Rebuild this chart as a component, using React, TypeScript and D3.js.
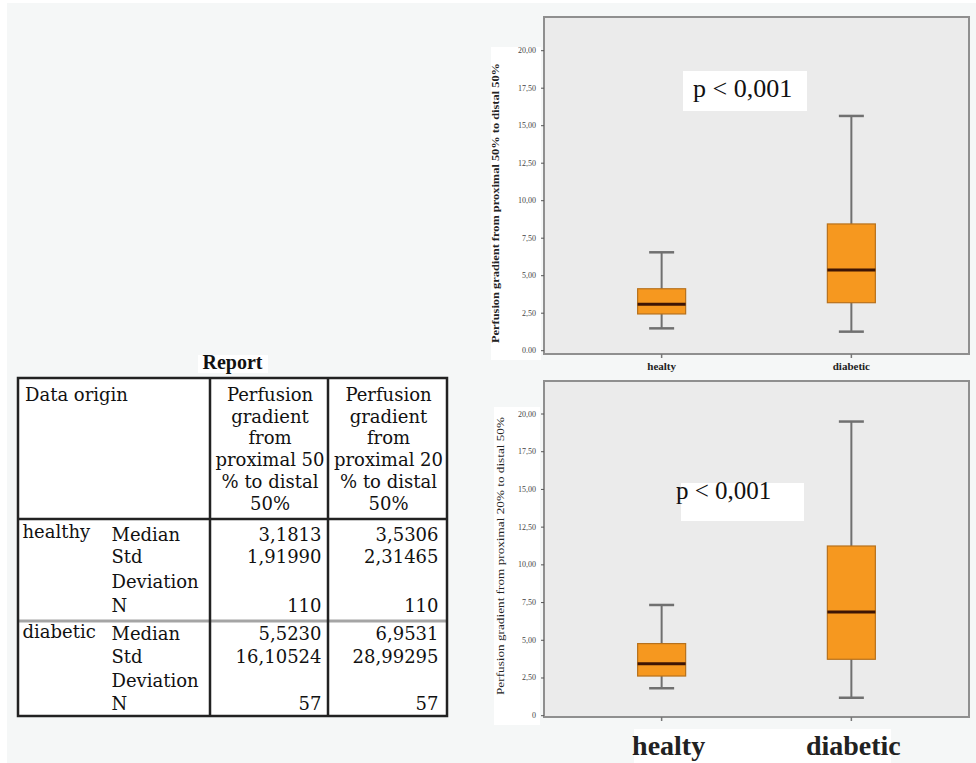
import React from "react";
import * as d3 from "d3";

const categories = ["healty", "diabetic"];
const yTicks = [0, 2.5, 5, 7.5, 10, 12.5, 15, 17.5, 20];
const topTickLabels = ["0.00", "2,50", "5,00", "7,50", "10,00", "12,50", "15,00", "17,50", "20,00"];
const bottomTickLabels = ["0", "2,50", "5,00", "7,50", "10,00", "12,50", "15,00", "17,50", "20,00"];

// chart 1: proximal 50% to distal 50%
const topLow = [1.49, 1.27];
const topQ1 = [2.45, 3.2];
const topMedian = [3.1, 5.38];
const topQ3 = [4.13, 8.45];
const topHigh = [6.56, 15.65];

// chart 2: proximal 20% to distal 50%
const botLow = [1.82, 1.19];
const botQ1 = [2.63, 3.74];
const botMedian = [3.45, 6.88];
const botQ3 = [4.78, 11.25];
const botHigh = [7.34, 19.5];

const topTitle = "Perfusion gradient from proximal 50% to distal 50%";
const botTitle = "Perfusion gradient from proximal 20% to distal 50%";
const pLabel = "p < 0,001";

// table
const headerCol1 = ["Perfusion", "gradient", "from", "proximal 50", "% to distal", "50%"];
const headerCol2 = ["Perfusion", "gradient", "from", "proximal 20", "% to distal", "50%"];
const groups = ["healthy", "diabetic"];
const statLabels = ["Median", "Std", "Deviation", "N"];
const healthyCol1 = ["3,1813", "1,91990", "", "110"];
const healthyCol2 = ["3,5306", "2,31465", "", "110"];
const diabeticCol1 = ["5,5230", "16,10524", "", "57"];
const diabeticCol2 = ["6,9531", "28,99295", "", "57"];

const SERIF = "'Liberation Serif', 'DejaVu Serif', serif";
const TSERIF = "'DejaVu Serif', 'Liberation Serif', serif";

type BoxProps = {
  fy0: number; fy1: number; y0: number; y20: number;
  low: number[]; q1: number[]; med: number[]; q3: number[]; high: number[];
  tickLabels: string[]; title: string; titleX: number; titleY: number; titleLen: number;
  titleBold: boolean; titleSize: number;
  labelBox: [number, number, number, number];
  smallLabels: boolean;
};

function BoxChart(p: BoxProps) {
  const fx0 = 544, fx1 = 969;
  const x = d3.scalePoint<string>().domain(categories).range([fx0, fx1]).padding(0.62);
  const y = d3.scaleLinear().domain([0, 20]).range([p.y0, p.y20]);
  const bw = 48, cw = 25;
  const [lx0, ly0, lx1, ly1] = p.labelBox;
  return (
    <g>
      <rect x={fx0} y={p.fy0} width={fx1 - fx0} height={p.fy1 - p.fy0} fill="#ebebeb" stroke="#8f8f8f" strokeWidth={2} />
      <rect x={lx0} y={ly0} width={lx1 - lx0} height={ly1 - ly0} fill="#ffffff" />
      {yTicks.map((t, i) => (
        <g key={i}>
          <line x1={fx0 - 3} x2={fx0} y1={y(t)} y2={y(t)} stroke="#555" strokeWidth={1} />
          <text x={fx0 - 8} y={y(t) + 2.5} textAnchor="end" fontFamily={SERIF} fontSize={8} fill="#444">{p.tickLabels[i]}</text>
        </g>
      ))}
      <text transform={`translate(${p.titleX},${p.titleY}) rotate(-90)`} textAnchor="middle"
        textLength={p.titleLen} lengthAdjust="spacingAndGlyphs"
        fontFamily={SERIF} fontSize={p.titleSize} fontWeight={p.titleBold ? "bold" : "normal"} fill="#222">{p.title}</text>
      {categories.map((c, i) => {
        const cx = x(c)!;
        return (
          <g key={c}>
            <line x1={cx} x2={cx} y1={p.fy1} y2={p.fy1 + 4} stroke="#777" strokeWidth={1.5} />
            <line x1={cx} x2={cx} y1={y(p.high[i])} y2={y(p.low[i])} stroke="#707070" strokeWidth={2} />
            <line x1={cx - cw / 2} x2={cx + cw / 2} y1={y(p.high[i])} y2={y(p.high[i])} stroke="#707070" strokeWidth={2.5} />
            <line x1={cx - cw / 2} x2={cx + cw / 2} y1={y(p.low[i])} y2={y(p.low[i])} stroke="#707070" strokeWidth={2.5} />
            <rect x={cx - bw / 2} y={y(p.q3[i])} width={bw} height={y(p.q1[i]) - y(p.q3[i])} fill="#f6981f" stroke="#b7711c" strokeWidth={1.2} />
            <line x1={cx - bw / 2} x2={cx + bw / 2} y1={y(p.med[i])} y2={y(p.med[i])} stroke="#3d1505" strokeWidth={3} />
            {p.smallLabels && (
              <text x={cx} y={p.fy1 + 16} textAnchor="middle" fontFamily={SERIF} fontSize={11} fontWeight="bold" fill="#222">{c}</text>
            )}
          </g>
        );
      })}
    </g>
  );
}

export default function App() {
  const tblX0 = 18, tblX1 = 447, tblY0 = 378, tblY1 = 716;
  const v1 = 210, v2 = 328;
  const hdrBottom = 519, grpLine = 621;
  const fs = 18;
  const hdrBase = [400.7, 422.5, 444, 465.7, 487.8, 510];
  const rowBase = [[541, 563, 587.5, 611.5], [640, 663, 686.5, 710]];
  const groupBase = [538, 638];
  const cols = [[healthyCol1, healthyCol2], [diabeticCol1, diabeticCol2]];
  const xs = d3.scalePoint<string>().domain(categories).range([544, 969]).padding(0.62);
  return (
    <svg width={976} height={763} style={{ position: "absolute", left: 0, top: 0 }}>
      <rect x={0} y={0} width={976} height={763} fill="#ffffff" />
      <rect x={7} y={3} width={969} height={760} fill="#f5f7f7" />

      {/* charts */}
      <BoxChart fy0={17} fy1={354} y0={350.7} y20={50.7}
        low={topLow} q1={topQ1} med={topMedian} q3={topQ3} high={topHigh}
        tickLabels={topTickLabels} title={topTitle} titleX={499} titleY={203} titleLen={280}
        titleBold={true} titleSize={10.5}
        labelBox={[491, 47, 541, 360]} smallLabels={true} />
      <rect x={683} y={71} width={124} height={40} fill="#ffffff" />
      <text x={693} y={97} fontFamily={SERIF} fontSize={26} fill="#111">{pLabel}</text>

      <BoxChart fy0={381} fy1={717} y0={715.7} y20={414}
        low={botLow} q1={botQ1} med={botMedian} q3={botQ3} high={botHigh}
        tickLabels={bottomTickLabels} title={botTitle} titleX={504} titleY={556} titleLen={278}
        titleBold={false} titleSize={11}
        labelBox={[494, 407, 540, 725]} smallLabels={false} />
      <rect x={681} y={483} width={123} height={38} fill="#ffffff" />
      <text x={676} y={499} fontFamily={SERIF} fontSize={25} fill="#111">{pLabel}</text>

      <rect x={634} y={729} width={257} height={34} fill="#ffffff" />
      {categories.map((c, i) => (
        <text key={c} x={xs(c)! + (i === 0 ? 7 : 2)} y={755} textAnchor="middle" fontFamily={SERIF}
          fontSize={28} fontWeight="bold" fill="#222">{c}</text>
      ))}

      {/* table */}
      <rect x={198} y={355} width={70} height={18} fill="#ffffff" />
      <text x={232.5} y={369} textAnchor="middle" fontFamily={SERIF} fontSize={20} fontWeight="bold" fill="#111">Report</text>
      <rect x={tblX0} y={tblY0} width={tblX1 - tblX0} height={tblY1 - tblY0} fill="#ffffff" />
      <text x={25} y={hdrBase[0]} fontFamily={TSERIF} fontSize={fs} fill="#111">Data origin</text>
      {headerCol1.map((t, i) => (
        <text key={"h1" + i} x={(v1 + v2) / 2 + 1} y={hdrBase[i]} textAnchor="middle" fontFamily={TSERIF} fontSize={fs} fill="#111">{t}</text>
      ))}
      {headerCol2.map((t, i) => (
        <text key={"h2" + i} x={(v2 + tblX1) / 2 + 1} y={hdrBase[i]} textAnchor="middle" fontFamily={TSERIF} fontSize={fs} fill="#111">{t}</text>
      ))}
      {groups.map((g, gi) => (
        <g key={g}>
          <text x={22.5} y={groupBase[gi]} fontFamily={TSERIF} fontSize={fs} fill="#111">{g}</text>
          {statLabels.map((s, si) => (
            <text key={s} x={111.5} y={rowBase[gi][si]} fontFamily={TSERIF} fontSize={fs} fill="#111">{s}</text>
          ))}
          {cols[gi][0].map((v, si) => (
            <text key={"a" + si} x={321.5} y={rowBase[gi][si]} textAnchor="end" fontFamily={TSERIF} fontSize={fs} fill="#111">{v}</text>
          ))}
          {cols[gi][1].map((v, si) => (
            <text key={"b" + si} x={438.5} y={rowBase[gi][si]} textAnchor="end" fontFamily={TSERIF} fontSize={fs} fill="#111">{v}</text>
          ))}
        </g>
      ))}
      <line x1={tblX0} x2={tblX1} y1={grpLine} y2={grpLine} stroke="#a5a5a5" strokeWidth={3} />
      <line x1={tblX0} x2={tblX1} y1={hdrBottom} y2={hdrBottom} stroke="#222" strokeWidth={2.5} />
      <line x1={v1} x2={v1} y1={tblY0} y2={tblY1} stroke="#222" strokeWidth={2.5} />
      <line x1={v2} x2={v2} y1={tblY0} y2={tblY1} stroke="#222" strokeWidth={2.5} />
      <rect x={tblX0} y={tblY0} width={tblX1 - tblX0} height={tblY1 - tblY0} fill="none" stroke="#222" strokeWidth={2.5} />
    </svg>
  );
}
